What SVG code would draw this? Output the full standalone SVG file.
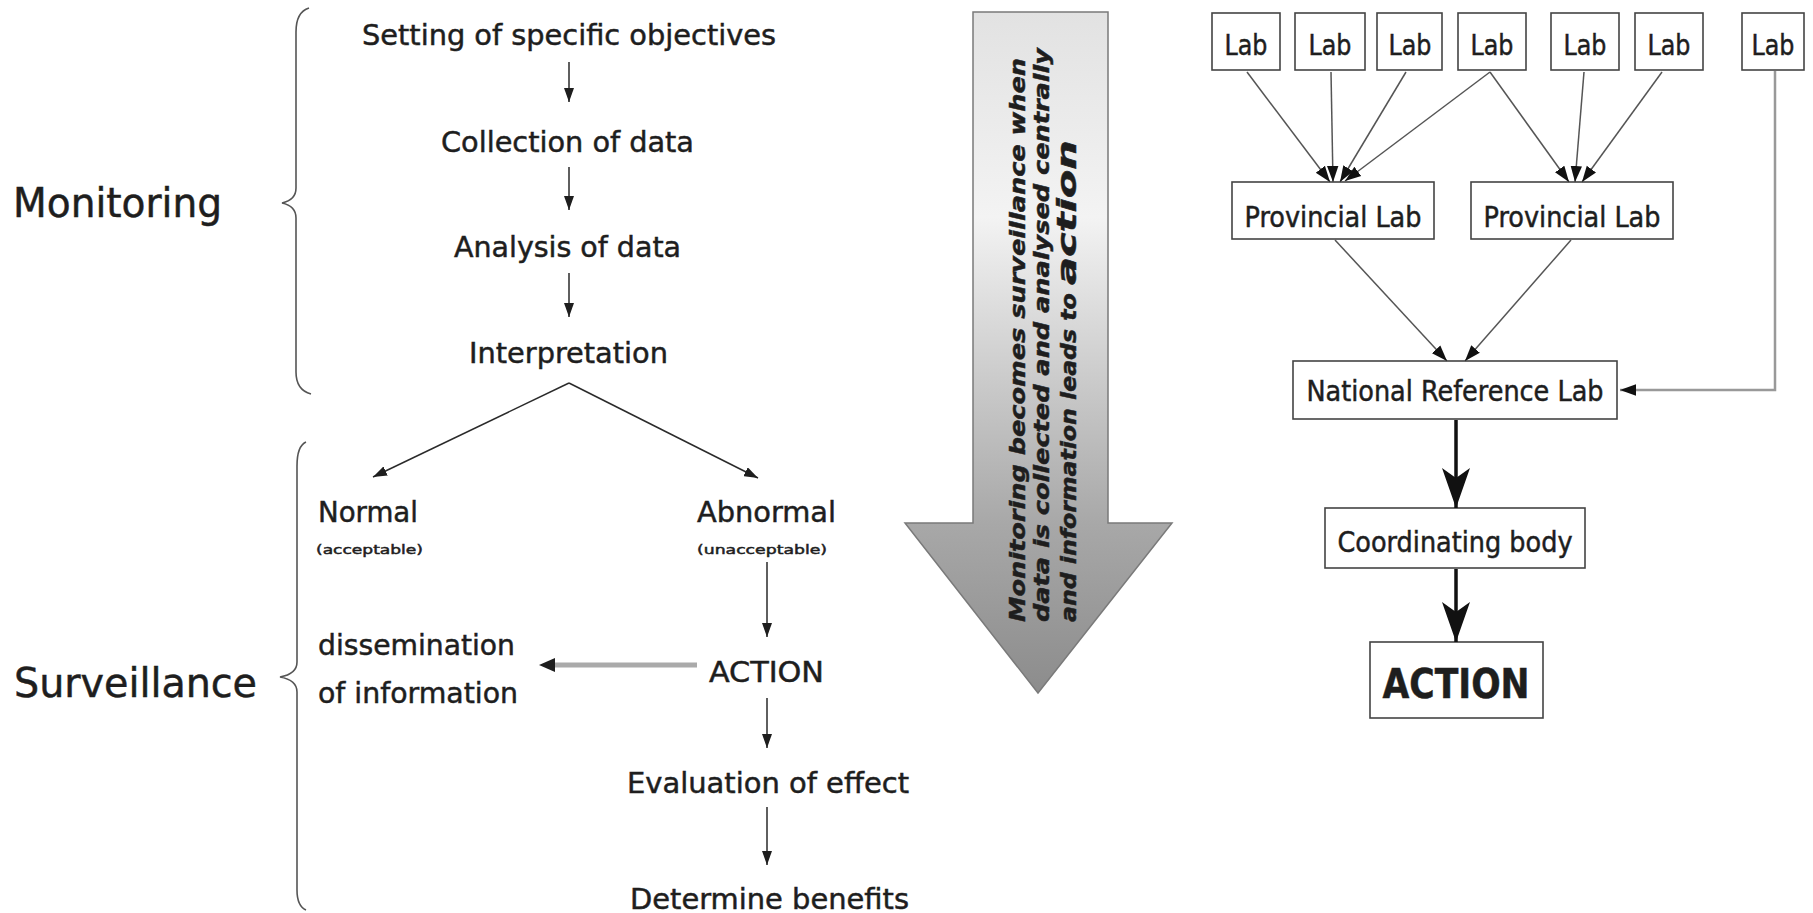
<svg xmlns="http://www.w3.org/2000/svg" width="1813" height="913" viewBox="0 0 1813 913">
<style>
.t{font-family:"DejaVu Sans Condensed","DejaVu Sans",sans-serif;fill:#1e1e1e;stroke:#1e1e1e;stroke-width:0.45;}
.box{fill:#fff;stroke:#444;stroke-width:1.6;}
.thin{fill:none;stroke:#2a2a2a;stroke-width:1.5;}
.rl{fill:none;stroke:#555;stroke-width:1.5;}
.brace{fill:none;stroke:#555;stroke-width:1.6;}
</style>
<defs>
<marker id="ah" viewBox="0 0 14 10" refX="14" refY="5" markerWidth="14" markerHeight="10" markerUnits="userSpaceOnUse" orient="auto"><path d="M0,0 L14,5 L0,10 z" fill="#1e1e1e"/></marker>
<marker id="ahs" viewBox="0 0 14 10" refX="14" refY="5" markerWidth="16" markerHeight="13" markerUnits="userSpaceOnUse" orient="auto"><path d="M0,0 L14,5 L0,10 z" fill="#111"/></marker>
<marker id="ahb" viewBox="0 0 40 28" refX="40" refY="14" markerWidth="40" markerHeight="28" markerUnits="userSpaceOnUse" orient="auto"><path d="M0,0 L40,14 L0,28 L10,14 z" fill="#111"/></marker>
<linearGradient id="bg" x1="0" y1="13" x2="0" y2="693" gradientUnits="userSpaceOnUse">
<stop offset="0" stop-color="#e2e2e2"/>
<stop offset="0.3" stop-color="#f3f3f3"/>
<stop offset="0.55" stop-color="#c9c9c9"/>
<stop offset="0.75" stop-color="#a8a8a8"/>
<stop offset="1" stop-color="#8c8c8c"/>
</linearGradient>
</defs>
<rect width="1813" height="913" fill="#fff"/>

<g id="braces">
<path class="brace" d="M309,8 Q296,12 296,32 L296,188 Q296,200 282,203 Q296,206 296,218 L296,372 Q296,390 311,394"/>
<path class="brace" d="M306,442 Q297,446 297,466 L297,662 Q297,674 280,677 Q297,680 297,692 L297,890 Q297,906 306,910"/>
</g>
<g id="monitoring"><text class="t" x="13" y="217" font-size="40" textLength="209" lengthAdjust="spacingAndGlyphs">Monitoring</text></g>
<g id="surveillance"><text class="t" x="14" y="697" font-size="40" textLength="243" lengthAdjust="spacingAndGlyphs">Surveillance</text></g>
<g id="setting"><text class="t" x="362" y="45" font-size="29" textLength="414" lengthAdjust="spacingAndGlyphs">Setting of specific objectives</text></g>
<g id="collection"><text class="t" x="441" y="152" font-size="29" textLength="253" lengthAdjust="spacingAndGlyphs">Collection of data</text></g>
<g id="analysis"><text class="t" x="454" y="257" font-size="29" textLength="227" lengthAdjust="spacingAndGlyphs">Analysis of data</text></g>
<g id="interpretation"><text class="t" x="469" y="363" font-size="29" textLength="199" lengthAdjust="spacingAndGlyphs">Interpretation</text></g>
<g id="normal">
<text class="t" x="318" y="522" font-size="29" textLength="100" lengthAdjust="spacingAndGlyphs">Normal</text>
<text class="t" x="316" y="554" font-size="13" stroke-width="0.2" textLength="107" lengthAdjust="spacingAndGlyphs">(acceptable)</text>
</g>
<g id="abnormal">
<text class="t" x="697" y="522" font-size="29" textLength="139" lengthAdjust="spacingAndGlyphs">Abnormal</text>
<text class="t" x="697" y="554" font-size="13" stroke-width="0.2" textLength="130" lengthAdjust="spacingAndGlyphs">(unacceptable)</text>
</g>
<g id="dissemination">
<text class="t" x="318" y="655" font-size="29" textLength="197" lengthAdjust="spacingAndGlyphs">dissemination</text>
<text class="t" x="318" y="703" font-size="29" textLength="200" lengthAdjust="spacingAndGlyphs">of information</text>
</g>
<g id="action-left"><text class="t" x="709" y="682" font-size="29" textLength="115" lengthAdjust="spacingAndGlyphs">ACTION</text></g>
<g id="evaluation"><text class="t" x="627" y="793" font-size="29" textLength="282" lengthAdjust="spacingAndGlyphs">Evaluation of effect</text></g>
<g id="determine"><text class="t" x="630" y="909" font-size="29" textLength="279" lengthAdjust="spacingAndGlyphs">Determine benefits</text></g>

<g id="big-arrow">
<path d="M973,12 L1108,12 L1108,523 L1172,523 L1038,693 L905,523 L973,523 Z" fill="url(#bg)" stroke="#7a7a7a" stroke-width="1.5"/>
<g class="t" font-weight="bold" font-style="italic" font-size="21">
<text transform="translate(1025,622) rotate(-90)" textLength="564" lengthAdjust="spacingAndGlyphs">Monitoring becomes surveillance when</text>
<text transform="translate(1049,622) rotate(-90)" textLength="574" lengthAdjust="spacingAndGlyphs">data is collected and analysed centrally</text>
<text transform="translate(1076,622) rotate(-90)"><tspan textLength="337" lengthAdjust="spacingAndGlyphs">and information leads to </tspan><tspan font-size="27" textLength="145" lengthAdjust="spacingAndGlyphs">action</tspan></text>
</g>
</g>

<g id="lab1"><rect class="box" x="1212" y="13" width="68" height="57"/><text class="t" x="1246" y="55" font-size="28" text-anchor="middle" textLength="43" lengthAdjust="spacingAndGlyphs">Lab</text></g>
<g id="lab2"><rect class="box" x="1295" y="13" width="70" height="57"/><text class="t" x="1330" y="55" font-size="28" text-anchor="middle" textLength="43" lengthAdjust="spacingAndGlyphs">Lab</text></g>
<g id="lab3"><rect class="box" x="1377" y="13" width="65" height="57"/><text class="t" x="1410" y="55" font-size="28" text-anchor="middle" textLength="43" lengthAdjust="spacingAndGlyphs">Lab</text></g>
<g id="lab4"><rect class="box" x="1458" y="13" width="68" height="57"/><text class="t" x="1492" y="55" font-size="28" text-anchor="middle" textLength="43" lengthAdjust="spacingAndGlyphs">Lab</text></g>
<g id="lab5"><rect class="box" x="1551" y="13" width="68" height="57"/><text class="t" x="1585" y="55" font-size="28" text-anchor="middle" textLength="43" lengthAdjust="spacingAndGlyphs">Lab</text></g>
<g id="lab6"><rect class="box" x="1635" y="13" width="68" height="57"/><text class="t" x="1669" y="55" font-size="28" text-anchor="middle" textLength="43" lengthAdjust="spacingAndGlyphs">Lab</text></g>
<g id="lab7"><rect class="box" x="1742" y="13" width="62" height="57"/><text class="t" x="1773" y="55" font-size="28" text-anchor="middle" textLength="43" lengthAdjust="spacingAndGlyphs">Lab</text></g>
<g id="prov1"><rect class="box" x="1232" y="182" width="202" height="57"/><text class="t" x="1333" y="227" font-size="28" text-anchor="middle" textLength="177" lengthAdjust="spacingAndGlyphs">Provincial Lab</text></g>
<g id="prov2"><rect class="box" x="1471" y="182" width="202" height="57"/><text class="t" x="1572" y="227" font-size="28" text-anchor="middle" textLength="177" lengthAdjust="spacingAndGlyphs">Provincial Lab</text></g>
<g id="national"><rect class="box" x="1293" y="361" width="324" height="58"/><text class="t" x="1455" y="401" font-size="28" text-anchor="middle" textLength="297" lengthAdjust="spacingAndGlyphs">National Reference Lab</text></g>
<g id="coordinating"><rect class="box" x="1325" y="508" width="260" height="60"/><text class="t" x="1455" y="552" font-size="28" text-anchor="middle" textLength="235" lengthAdjust="spacingAndGlyphs">Coordinating body</text></g>
<g id="action-right"><rect class="box" x="1370" y="642" width="173" height="76" stroke-width="3"/><text class="t" x="1456" y="698" font-size="40" font-weight="bold" text-anchor="middle" textLength="147" lengthAdjust="spacingAndGlyphs">ACTION</text></g>

<g id="connectors">
<line class="thin" x1="569" y1="62" x2="569" y2="102" marker-end="url(#ah)"/>
<line class="thin" x1="569" y1="167" x2="569" y2="210" marker-end="url(#ah)"/>
<line class="thin" x1="569" y1="273" x2="569" y2="317" marker-end="url(#ah)"/>
<line class="thin" x1="569" y1="383" x2="373" y2="477" marker-end="url(#ah)"/>
<line class="thin" x1="569" y1="383" x2="758" y2="478" marker-end="url(#ah)"/>
<line class="thin" x1="767" y1="562" x2="767" y2="637" marker-end="url(#ah)"/>
<line class="thin" x1="767" y1="698" x2="767" y2="748" marker-end="url(#ah)"/>
<line class="thin" x1="767" y1="807" x2="767" y2="865" marker-end="url(#ah)"/>
<line x1="697" y1="665" x2="552" y2="665" stroke="#aaa" stroke-width="5"/>
<path d="M539,665 L555,658 L555,672 Z" fill="#1e1e1e"/>

<line class="rl" x1="1247" y1="72" x2="1330" y2="182" marker-end="url(#ahs)"/>
<line class="rl" x1="1331" y1="72" x2="1333" y2="182" marker-end="url(#ahs)"/>
<line class="rl" x1="1406" y1="72" x2="1340" y2="182" marker-end="url(#ahs)"/>
<line class="rl" x1="1490" y1="72" x2="1345" y2="181" marker-end="url(#ahs)"/>
<line class="rl" x1="1490" y1="72" x2="1569" y2="182" marker-end="url(#ahs)"/>
<line class="rl" x1="1584" y1="72" x2="1575" y2="182" marker-end="url(#ahs)"/>
<line class="rl" x1="1662" y1="72" x2="1582" y2="182" marker-end="url(#ahs)"/>
<line class="rl" x1="1335" y1="240" x2="1447" y2="361" marker-end="url(#ahs)"/>
<line class="rl" x1="1571" y1="240" x2="1465" y2="361" marker-end="url(#ahs)"/>
<path d="M1775,71 V390 H1620" fill="none" stroke="#999" stroke-width="2.5" marker-end="url(#ahs)"/>
<line x1="1456" y1="420" x2="1456" y2="508" stroke="#111" stroke-width="3.5" marker-end="url(#ahb)"/>
<line x1="1456" y1="569" x2="1456" y2="642" stroke="#111" stroke-width="3.5" marker-end="url(#ahb)"/>
</g>
</svg>
